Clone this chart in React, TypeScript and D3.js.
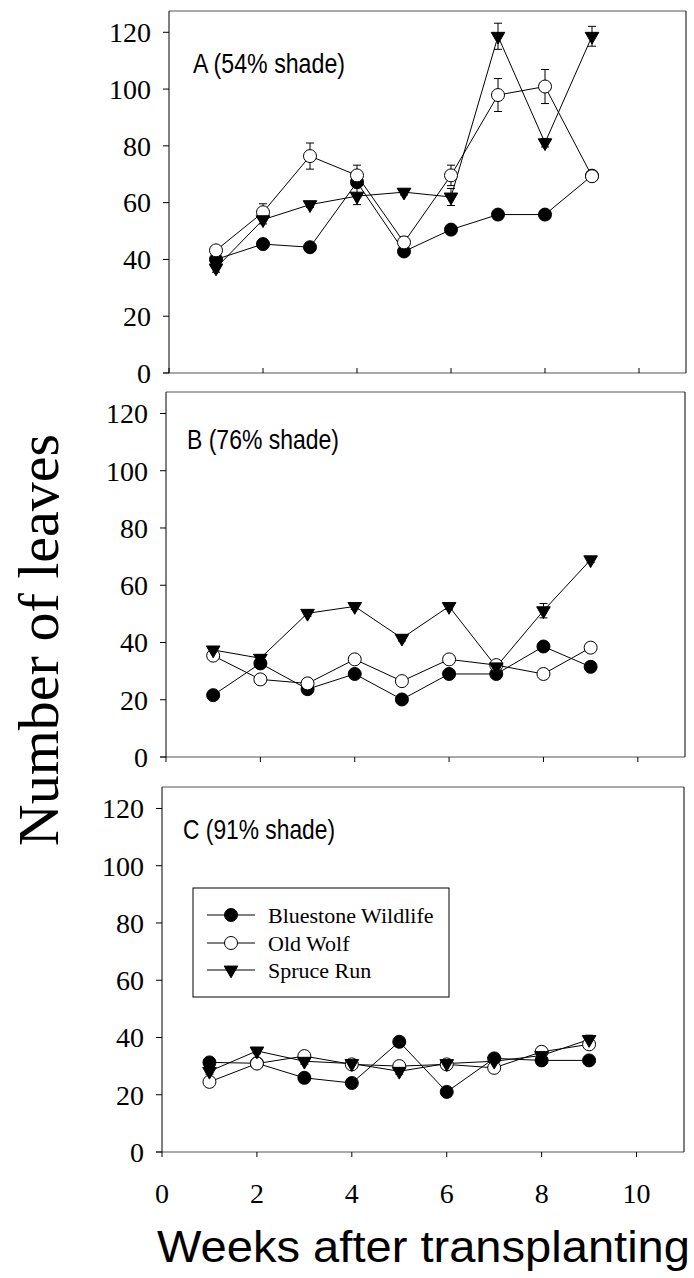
import React from "react";
import * as d3 from "d3";

const weeks = [1, 2, 3, 4, 5, 6, 7, 8, 9];
const seriesNames = ["Bluestone Wildlife", "Old Wolf", "Spruce Run"];
const yTicks = [0, 20, 40, 60, 80, 100, 120];
const xTicks = [0, 2, 4, 6, 8, 10];
const panelTitles = ["A (54% shade)", "B (76% shade)", "C (91% shade)"];

const aBluestone = [40, 45.4, 44.3, 67.2, 42.8, 50.5, 55.8, 55.8, 69.5];
const aOldWolf = [43.2, 56.6, 76.4, 69.6, 46, 69.6, 97.9, 100.9, 69.3];
const aSpruce = [37, 54, 59.3, 62.3, 63.7, 62, 118.6, 81.1, 118.6];
const aBluestoneErr = [1, 1, 1, 1.5, 1, 1, 1, 1, 1];
const aOldWolfErr = [1.5, 3, 4.6, 3.6, 2, 3.6, 5.8, 6, 1];
const aSpruceErr = [1.5, 1.5, 1, 3, 1, 3, 4.6, 1.5, 3.5];

const bBluestone = [21.6, 32.7, 23.7, 29, 20.1, 29, 29, 38.6, 31.5];
const bOldWolf = [35.4, 27.1, 25.7, 34.1, 26.5, 34.1, 32.1, 29, 38.2];
const bSpruce = [37.4, 34.5, 50.2, 52.6, 41.5, 52.6, 31.5, 51.1, 68.9];
const bBluestoneErr = [1, 1, 1, 1, 1, 1, 1, 1, 1];
const bOldWolfErr = [1, 1, 1, 1, 1, 1, 1, 1, 1];
const bSpruceErr = [1, 1, 1, 1, 1, 1, 1, 2.5, 1];

const cBluestone = [31.3, 31, 25.9, 24.1, 38.5, 21, 32.7, 32, 32];
const cOldWolf = [24.5, 30.9, 33.5, 30.6, 30, 30.6, 29.4, 35, 37.6];
const cSpruce = [28.2, 35.3, 31.7, 30.9, 28.2, 30.9, 31.7, 33.7, 39.3];
const cBluestoneErr = [1, 1, 1, 1, 1, 1, 1, 1, 1];
const cOldWolfErr = [1, 1, 1, 1, 1, 1, 1, 1, 1];
const cSpruceErr = [1, 1, 1, 1, 1, 1, 1, 1, 1.5];

const panelData = [
  { values: [aBluestone, aOldWolf, aSpruce], errors: [aBluestoneErr, aOldWolfErr, aSpruceErr] },
  { values: [bBluestone, bOldWolf, bSpruce], errors: [bBluestoneErr, bOldWolfErr, bSpruceErr] },
  { values: [cBluestone, cOldWolf, cSpruce], errors: [cBluestoneErr, cOldWolfErr, cSpruceErr] },
];

// layout (positions only)
const layout = [
  { left: 169, right: 686, top: 11, bottom: 373, tickIn: true, titleX: 193, titleY: 73 },
  { left: 166, right: 685, top: 392, bottom: 757, tickIn: false, titleX: 187, titleY: 449 },
  { left: 162, right: 684, top: 787, bottom: 1152, tickIn: false, titleX: 183, titleY: 839 },
];

const SERIF = "'Liberation Serif', 'Times New Roman', serif";
const SANS = "'Liberation Sans', Arial, sans-serif";

const triPath = d3.symbol(d3.symbolTriangle, 80)() as string;

function Marker({ kind, x, y }: { kind: number; x: number; y: number }) {
  if (kind === 0) return <circle cx={x} cy={y} r={6.5} fill="#000" stroke="#000" strokeWidth={1} />;
  if (kind === 1) return <circle cx={x} cy={y} r={6.5} fill="#fff" stroke="#000" strokeWidth={1} />;
  return <path d={triPath} transform={`translate(${x},${y}) rotate(180)`} fill="#000" stroke="#000" strokeWidth={1} />;
}

function Panel({ idx }: { idx: number }) {
  const L = layout[idx];
  const D = panelData[idx];
  const x = d3.scaleLinear().domain([0, 11]).range([L.left, L.right]);
  const y = d3.scaleLinear().domain([0, 127.5]).range([L.bottom, L.top]);
  const line = d3
    .line<number>()
    .x((_, i) => x(weeks[i]))
    .y((d) => y(d));
  const showXLabels = idx === 2;
  return (
    <g>
      <line x1={L.left} x2={L.right} y1={L.top} y2={L.top} stroke="#555" strokeWidth={1.2} />
      <line x1={L.left - 6} x2={L.right} y1={L.bottom} y2={L.bottom} stroke="#555" strokeWidth={1.2} />
      <line x1={L.left} x2={L.left} y1={L.top} y2={L.bottom} stroke="#000" strokeWidth={1} />
      <line x1={L.right} x2={L.right} y1={L.top} y2={L.bottom} stroke="#000" strokeWidth={1} />
      {yTicks.map((t) => (
        <g key={"y" + t}>
          <line x1={L.left - 6} x2={L.left} y1={y(t)} y2={y(t)} stroke="#000" strokeWidth={1} />
          <text
            x={L.left - 18}
            y={y(t)}
            dy="0.35em"
            textAnchor="end"
            fontFamily={SERIF}
            fontSize={28}
            fill="#000"
          >
            {t}
          </text>
        </g>
      ))}
      {xTicks.map((t) => (
        <g key={"x" + t}>
          <line
            x1={x(t)}
            x2={x(t)}
            y1={L.bottom}
            y2={L.tickIn ? L.bottom - 5 : L.bottom + 5}
            stroke="#000"
            strokeWidth={1}
          />
          {showXLabels && (
            <text x={x(t)} y={1203} textAnchor="middle" fontFamily={SERIF} fontSize={28} fill="#000">
              {t}
            </text>
          )}
        </g>
      ))}
      <text
        x={L.titleX}
        y={L.titleY}
        fontFamily={SANS}
        fontSize={28}
        textLength={152}
        lengthAdjust="spacingAndGlyphs"
        fill="#000"
      >
        {panelTitles[idx]}
      </text>
      {D.values.map((vals, s) => (
        <path key={"l" + s} d={line(vals) as string} fill="none" stroke="#000" strokeWidth={1} />
      ))}
      {D.values.map((vals, s) =>
        vals.map((v, i) => {
          const e = D.errors[s][i];
          const cx = x(weeks[i]);
          return (
            <g key={"e" + s + "-" + i} stroke="#000" strokeWidth={1}>
              <line x1={cx} x2={cx} y1={y(v - e)} y2={y(v + e)} />
              <line x1={cx - 4} x2={cx + 4} y1={y(v + e)} y2={y(v + e)} />
              <line x1={cx - 4} x2={cx + 4} y1={y(v - e)} y2={y(v - e)} />
            </g>
          );
        })
      )}
      {D.values.map((vals, s) =>
        vals.map((v, i) => <Marker key={"m" + s + "-" + i} kind={s} x={x(weeks[i])} y={y(v)} />)
      )}
    </g>
  );
}

function Legend() {
  const bx = 193,
    by = 888,
    bw = 256,
    bh = 109;
  const rows = [915, 943, 970];
  return (
    <g>
      <rect x={bx} y={by} width={bw} height={bh} fill="#fff" stroke="#000" strokeWidth={1} />
      {seriesNames.map((name, i) => (
        <g key={name}>
          <line x1={207} x2={255} y1={rows[i]} y2={rows[i]} stroke="#000" strokeWidth={1} />
          <Marker kind={i} x={231} y={rows[i]} />
          <text x={268} y={rows[i]} dy="0.35em" fontFamily={SERIF} fontSize={22} fill="#000">
            {name}
          </text>
        </g>
      ))}
    </g>
  );
}

export default function App() {
  return (
    <svg
      width={694}
      height={1278}
      viewBox="0 0 694 1278"
      style={{ position: "absolute", left: 0, top: 0, background: "#fff" }}
    >
      <rect x={0} y={0} width={694} height={1278} fill="#fff" />
      <Panel idx={0} />
      <Panel idx={1} />
      <Panel idx={2} />
      <Legend />
      <text
        transform="translate(58,640) rotate(-90)"
        textAnchor="middle"
        fontFamily={SERIF}
        fontSize={58}
        fill="#000"
      >
        Number of leaves
      </text>
      <text
        x={157}
        y={1262}
        fontFamily={SANS}
        fontSize={44}
        textLength={533}
        lengthAdjust="spacingAndGlyphs"
        fill="#000"
      >
        Weeks after transplanting
      </text>
    </svg>
  );
}
